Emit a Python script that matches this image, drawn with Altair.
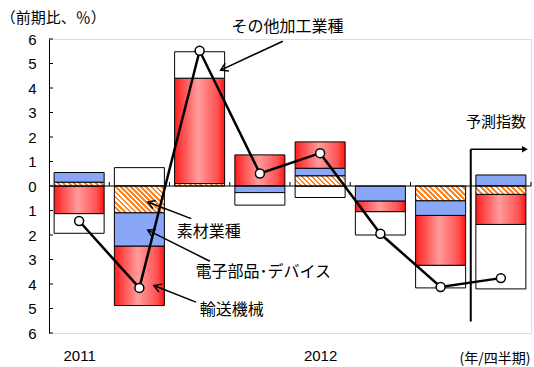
import math
import altair as alt
import pandas as pd

# ---------------- data (前期比, %) ----------------
quarters = ["2011Q1", "2011Q2", "2011Q3", "2011Q4", "2012Q1", "2012Q2", "2012Q3", "2012Q4"]
materials = [0.15, -1.09, 0.10, 0.00, 0.41, 0.00, -0.60, -0.34]      # 素材業種
electronics = [0.40, -1.36, 0.00, -0.27, 0.31, -0.61, -0.60, 0.45]   # 電子部品・デバイス
transport = [-1.13, -2.43, 4.30, 1.27, 1.08, -0.44, -2.04, -1.23]    # 輸送機械
other = [-0.80, 0.75, 1.08, -0.51, -0.47, -0.95, -0.92, -2.63]       # その他加工業種
total = [-1.43, -4.16, 5.52, 0.51, 1.34, -1.95, -4.12, -3.76]        # 鉱工業生産
year_labels = ["2011", "2012"]
year_positions = [0.5, 4.5]
y_ticks = [-6, -5, -4, -3, -2, -1, 0, 1, 2, 3, 4, 5, 6]

# ---------------- layout ----------------
W, H = 482, 294
PAD_L, PAD_T, PAD_R, PAD_B = 49, 39, 3, 34
NQ = len(quarters)
BAR_FRAC = 0.83
px_x = W / NQ          # px per category unit
px_y = H / 12.0        # px per % unit

JP = "Noto Sans CJK JP"
NUM = "Liberation Sans"

xs = alt.Scale(domain=[0, NQ], nice=False, zero=False)
ys = alt.Scale(domain=[-6, 6], nice=False, zero=False)

x_axis = alt.Axis(values=year_positions,
                  labelExpr="datum.value < 2 ? '" + year_labels[0] + "' : '" + year_labels[1] + "'",
                  domain=False, ticks=False, tickSize=0, grid=False, title=None,
                  labelFont=NUM, labelFontSize=15, labelColor="black", labelPadding=15)
y_axis = alt.Axis(values=y_ticks, labelExpr="abs(datum.value)", domain=True, domainColor="black",
                  domainWidth=1, ticks=False, tickSize=0, grid=False, title=None,
                  labelFont=NUM, labelFontSize=15, labelColor="black", labelPadding=13)


def X(f):
    return alt.X(f, type="quantitative", scale=xs, axis=x_axis)


def Y(f):
    return alt.Y(f, type="quantitative", scale=ys, axis=y_axis)


# ---------------- stacked segments ----------------
series = [("materials", materials), ("electronics", electronics),
          ("transport", transport), ("other", other)]
rows = []
for i in range(NQ):
    pos, neg = 0.0, 0.0
    for name, vals in series:
        v = vals[i]
        if v == 0:
            continue
        if v > 0:
            y0, y1 = pos, pos + v
            pos = y1
        else:
            y0, y1 = neg, neg + v
            neg = y1
        rows.append({"q": i, "seg": name, "x0": i + (1 - BAR_FRAC) / 2,
                     "x1": i + 1 - (1 - BAR_FRAC) / 2, "y0": y0, "y1": y1})
seg_df = pd.DataFrame(rows)

red_grad = alt.LinearGradient(gradient="linear", x1=0, y1=0, x2=1, y2=0, stops=[
    alt.GradientStop(offset=0, color="#ff1e1e"),
    alt.GradientStop(offset=0.47, color="#ff9c9c"),
    alt.GradientStop(offset=0.85, color="#ff5252"),
    alt.GradientStop(offset=1, color="#ff1414"),
])


def seg_layer(name, fill):
    return alt.Chart(seg_df).transform_filter(alt.datum.seg == name).mark_bar(
        fill=fill, stroke="black", strokeWidth=1, opacity=1
    ).encode(x=X("x0"), x2="x1", y=Y("y0"), y2="y1")


layers = [seg_layer("transport", red_grad),
          seg_layer("electronics", "#89a7f6"),
          seg_layer("other", "white")]

# hatched (diagonal stripes) segments for 素材業種
for r in rows:
    if r["seg"] != "materials":
        continue
    w = BAR_FRAC * px_x
    h = abs(r["y1"] - r["y0"]) * px_y
    n = max(1, int(round((w + h) / 5.2)))
    s = (w + h) / (w * w + h * h)
    stops = []
    for k in range(n):
        a, b, c = k / n, (k + 0.55) / n, (k + 1) / n
        stops += [alt.GradientStop(offset=a, color="#ff8522"),
                  alt.GradientStop(offset=b, color="#ff8522"),
                  alt.GradientStop(offset=b, color="#ffffff"),
                  alt.GradientStop(offset=c, color="#ffffff")]
    grad = alt.LinearGradient(gradient="linear", x1=0, y1=1, x2=s * w, y2=1 - s * h, stops=stops)
    one = pd.DataFrame([r])
    layers.append(alt.Chart(one).mark_bar(fill=grad, stroke="black", strokeWidth=1, opacity=1)
                  .encode(x=X("x0"), x2="x1", y=Y("y0"), y2="y1"))

# ---------------- axes decorations ----------------
base_df = pd.DataFrame({"x0": [0], "x1": [NQ], "y": [0]})
layers.append(alt.Chart(base_df).mark_rule(color="black", strokeWidth=1)
              .encode(x=X("x0"), x2="x1", y=Y("y")))
xt_df = pd.DataFrame({"x": list(range(1, NQ + 1)), "y0": 0.0, "y1": 4 / px_y})
layers.append(alt.Chart(xt_df).mark_rule(color="black", strokeWidth=1)
              .encode(x=X("x"), y=Y("y0"), y2="y1"))
yt_df = pd.DataFrame({"y": y_ticks, "x0": 0.0, "x1": 4 / px_x})
layers.append(alt.Chart(yt_df).mark_rule(color="black", strokeWidth=1)
              .encode(x=X("x0"), x2="x1", y=Y("y")))

# ---------------- total line ----------------
tot_df = pd.DataFrame({"x": [i + 0.5 for i in range(NQ)], "y": total})
layers.append(alt.Chart(tot_df).mark_line(color="black", strokeWidth=2.5)
              .encode(x=X("x"), y=Y("y")))
layers.append(alt.Chart(tot_df).mark_point(filled=True, fill="white", stroke="black",
                                           strokeWidth=1.5, size=80, opacity=1)
              .encode(x=X("x"), y=Y("y")))

# ---------------- forecast marker ----------------
fc_df = pd.DataFrame({"x": [7.0], "ytop": [1.5], "ybot": [-5.53], "xend": [7.9]})
layers.append(alt.Chart(fc_df).mark_rule(color="black", strokeWidth=2)
              .encode(x=X("x"), y=Y("ytop"), y2="ybot"))
layers.append(alt.Chart(fc_df).mark_rule(color="black", strokeWidth=1.5)
              .encode(x=X("x"), x2="xend", y=Y("ytop")))
layers.append(alt.Chart(fc_df).mark_point(shape="triangle-right", filled=True, color="black",
                                          size=45, opacity=1)
              .encode(x=X("xend"), y=Y("ytop")))

# ---------------- annotation arrows ----------------
arrows = pd.DataFrame({
    "tx": [3.88, 2.36, 2.67, 2.44], "ty": [5.91, -1.33, -3.07, -4.74],
    "hx": [2.85, 1.64, 1.64, 1.74], "hy": [4.73, -0.65, -1.80, -4.06],
})
arrows["angle"] = [
    math.degrees(math.atan2(-(hy - ty) * px_y, (hx - tx) * px_x)) % 360
    for tx, ty, hx, hy in zip(arrows.tx, arrows.ty, arrows.hx, arrows.hy)
]
layers.append(alt.Chart(arrows).mark_rule(color="black", strokeWidth=1.5)
              .encode(x=X("tx"), y=Y("ty"), x2="hx", y2="hy"))
layers.append(alt.Chart(arrows).mark_point(shape="M-1,-0.6L0,0L-1,0.6", filled=False,
                                           stroke="black", strokeWidth=1.5, size=200, opacity=1)
              .encode(x=X("hx"), y=Y("hy"), angle=alt.Angle("angle:Q", scale=None)))

# ---------------- texts ----------------
labels = pd.DataFrame({
    "x": [3.03, 2.12, 2.43, 2.50, 6.92],
    "y": [6.47, -1.87, -3.53, -5.08, 2.62],
    "t": ["その他加工業種", "素材業種", "電子部品･デバイス", "輸送機械", "予測指数"],
    "fs": [16, 16, 16, 16, 15],
})
layers.append(alt.Chart(labels).mark_text(align="left", baseline="middle", font=JP, color="black")
              .encode(x=X("x"), y=Y("y"), text="t:N", size=alt.Size("fs:Q", scale=None)))

corner = pd.DataFrame({
    "x": [-0.80, 7.99], "y": [6.86, -7.05], "t": ["（前期比、％）", "(年/四半期)"],
    "al": ["left", "right"],
})
layers.append(alt.Chart(corner).transform_filter(alt.datum.al == "left")
              .mark_text(align="left", baseline="middle", font=JP, fontSize=15, color="black")
              .encode(x=X("x"), y=Y("y"), text="t:N"))
layers.append(alt.Chart(corner).transform_filter(alt.datum.al == "right")
              .mark_text(align="right", baseline="middle", font=JP, fontSize=14, color="black")
              .encode(x=X("x"), y=Y("y"), text="t:N"))

chart = alt.layer(*layers).properties(
    width=W, height=H,
    autosize=alt.AutoSizeParams(type="none"),
    padding={"left": PAD_L, "top": PAD_T, "right": PAD_R, "bottom": PAD_B},
).configure_view(stroke=None).configure(background="white")

chart.save("out.html", embed_options={"renderer": "svg", "actions": False})
